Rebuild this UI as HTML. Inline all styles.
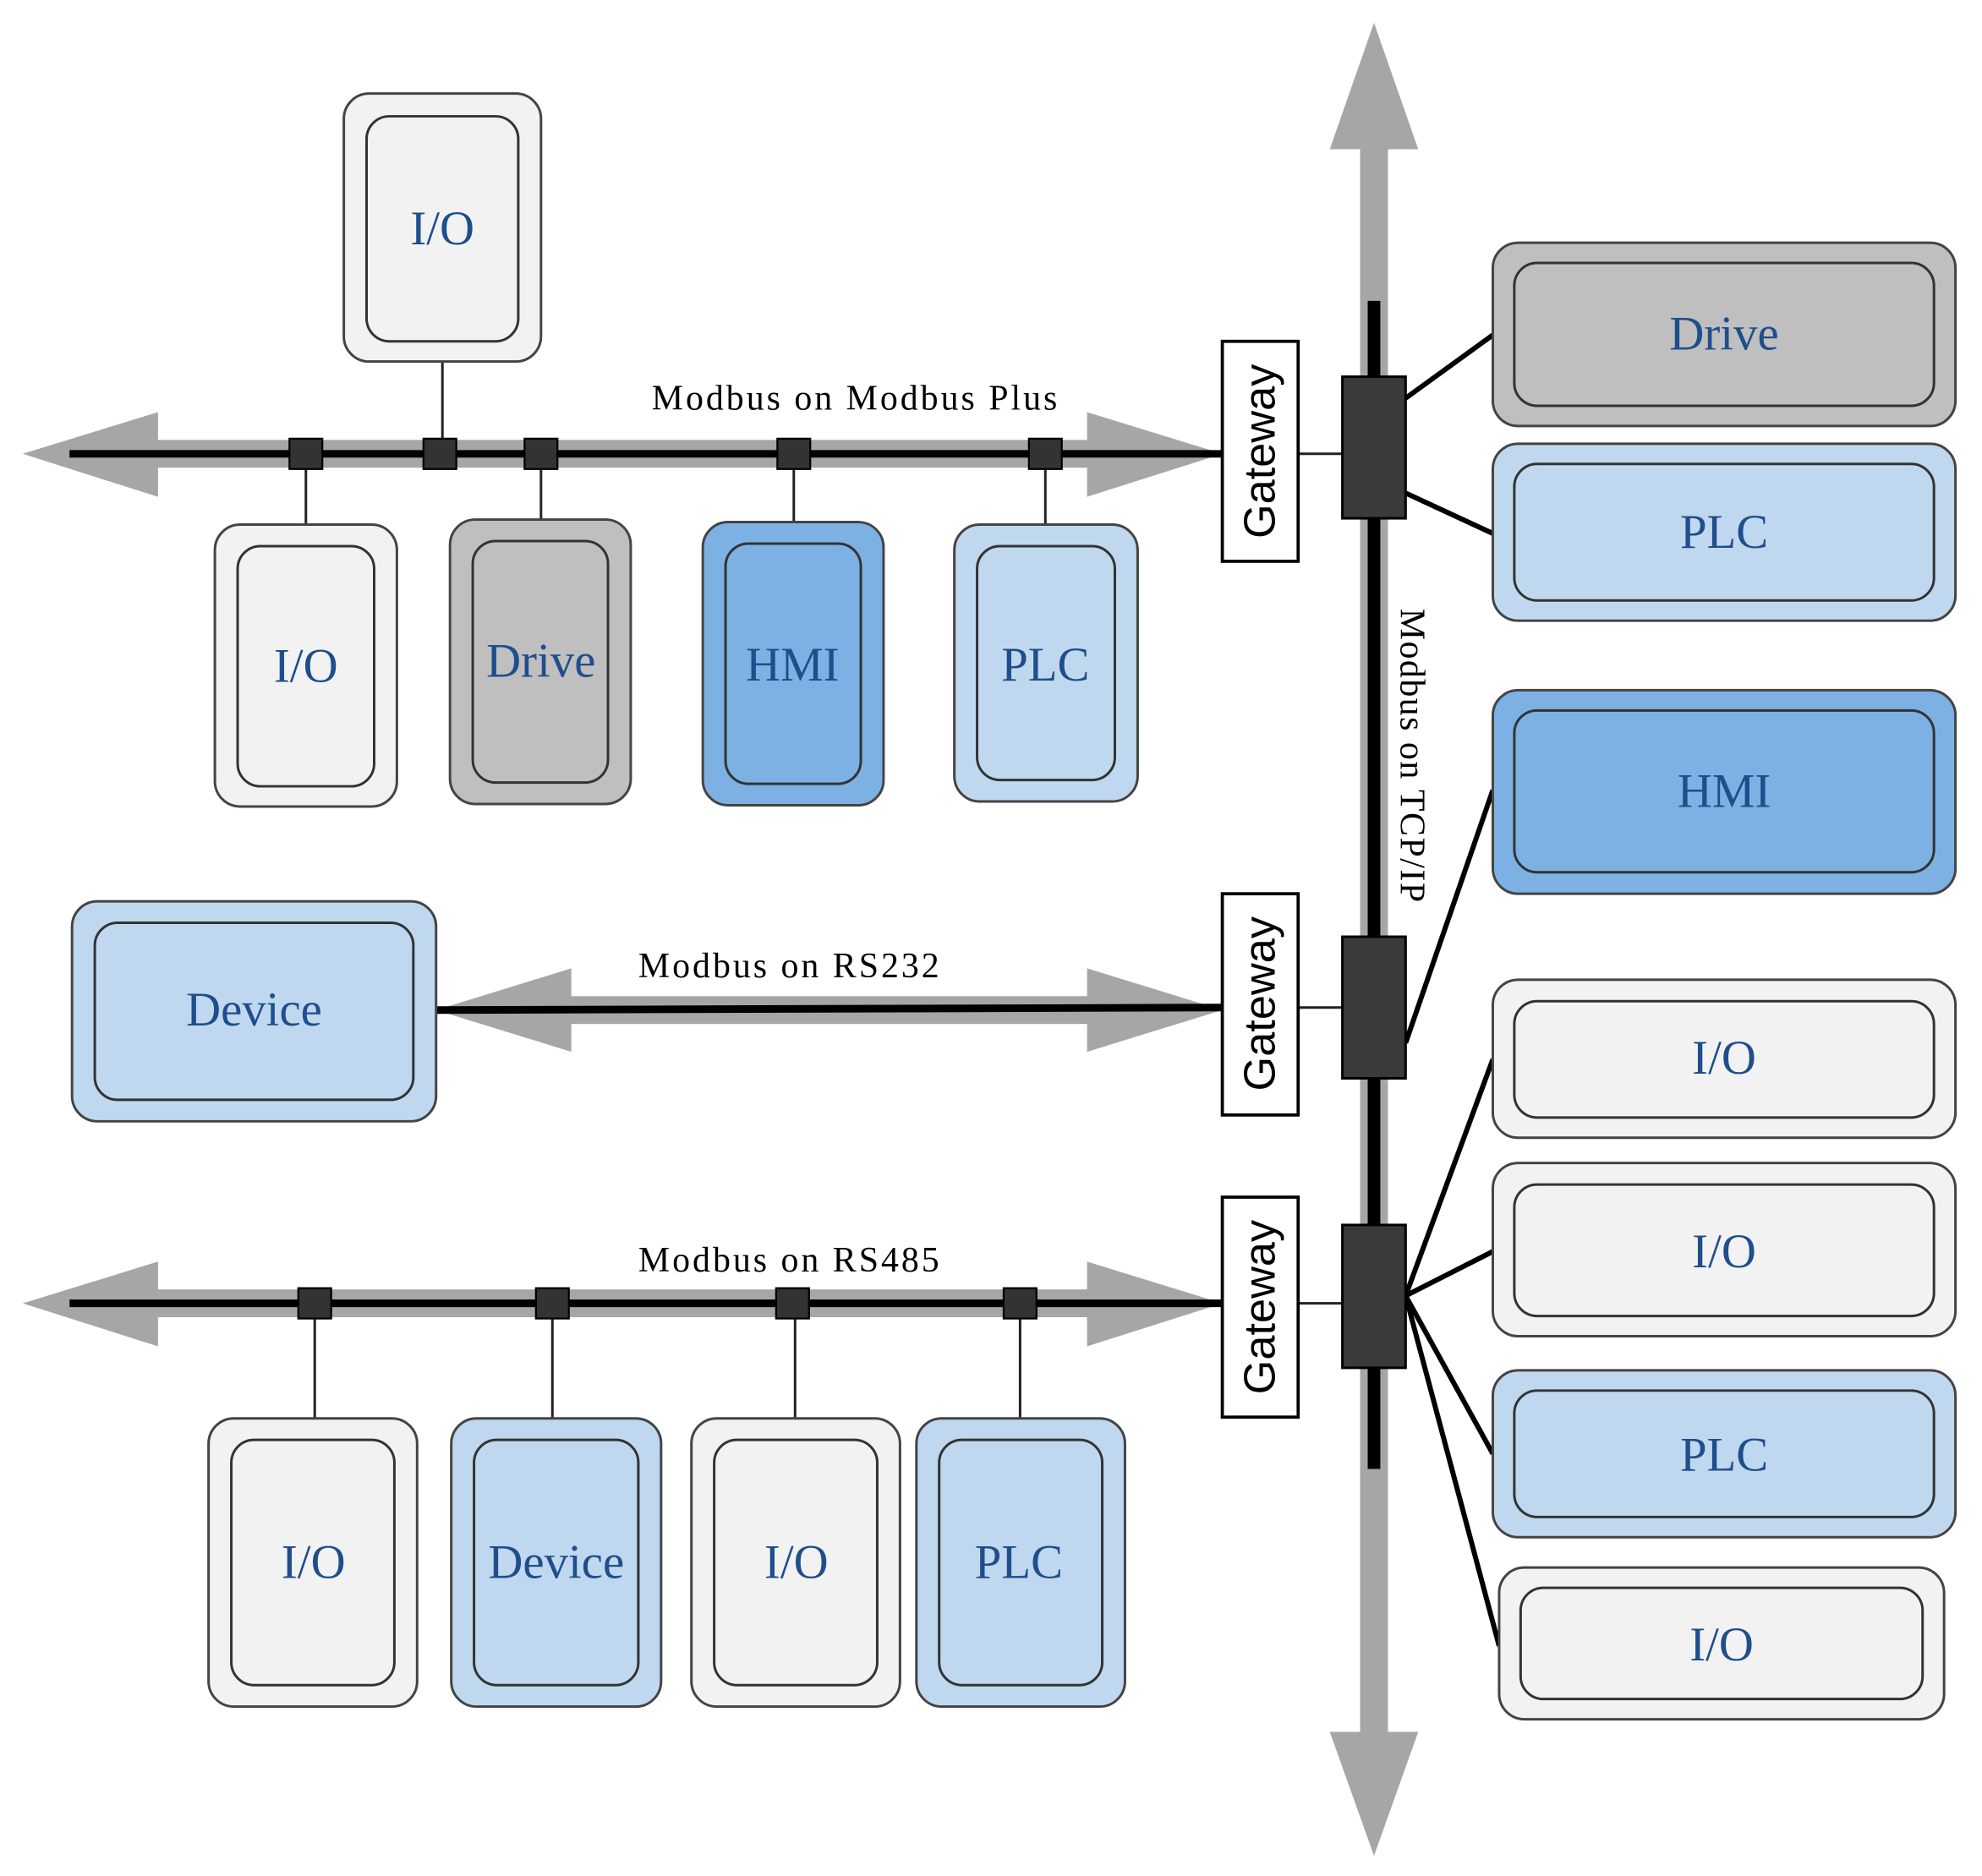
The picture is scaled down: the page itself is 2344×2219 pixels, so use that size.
<!DOCTYPE html>
<html><head><meta charset="utf-8"><style>
html,body{margin:0;padding:0;background:#fff;width:2344px;height:2219px;overflow:hidden}
svg{display:block}
.o{stroke:#444;stroke-width:2}
.i{fill:none;stroke:#333;stroke-width:2}
.t{font-family:"Liberation Serif",serif;font-size:38px;fill:#1f4e8c;text-anchor:middle;dominant-baseline:central}
.l{font-family:"Liberation Serif",serif;font-size:28px;fill:#000;text-anchor:middle;letter-spacing:2px}
.g{font-family:"Liberation Sans",sans-serif;font-size:35px;fill:#000;text-anchor:middle;dominant-baseline:central}
.k{stroke:#000;stroke-width:4}
</style></head><body>
<svg width="2344" height="2219" viewBox="0 0 1568 1484" preserveAspectRatio="none">
<rect x="1076" y="110" width="22" height="1270" fill="#a6a6a6"/>
<polygon points="1087,18 1122,118 1052,118" fill="#a6a6a6"/>
<polygon points="1087,1468 1122,1370 1052,1370" fill="#a6a6a6"/>
<rect x="1082" y="238" width="10" height="924" fill="#000"/>
<g fill="#a6a6a6">
<rect x="110" y="348" width="760" height="22"/>
<polygon points="18,359 125,326 125,393"/><polygon points="967,359 860,326 860,393"/>
<rect x="440" y="788" width="430" height="22"/>
<polygon points="345,799 452,766 452,832"/><polygon points="967,799 860,766 860,832"/>
<rect x="110" y="1020" width="760" height="22"/>
<polygon points="18,1031 125,998 125,1065"/><polygon points="967,1031 860,998 860,1065"/>
</g>
<g stroke="#000" stroke-width="6">
<line x1="55" y1="359" x2="967" y2="359"/>
<line x1="345" y1="799" x2="967" y2="797"/>
<line x1="55" y1="1031" x2="967" y2="1031"/>
</g>
<text class="l" x="677" y="324">Modbus on Modbus Plus</text>
<text class="l" x="625" y="773">Modbus on RS232</text>
<text class="l" x="625" y="1006">Modbus on RS485</text>
<g stroke="#222" stroke-width="2">
<line x1="350" y1="286" x2="350" y2="359"/>
<line x1="242" y1="359" x2="242" y2="415"/><line x1="428" y1="359" x2="428" y2="411"/>
<line x1="628" y1="359" x2="628" y2="413"/><line x1="827" y1="359" x2="827" y2="415"/>
<line x1="249" y1="1031" x2="249" y2="1122"/><line x1="437" y1="1031" x2="437" y2="1122"/>
<line x1="629" y1="1031" x2="629" y2="1122"/><line x1="807" y1="1031" x2="807" y2="1122"/>
<line x1="1027" y1="359" x2="1062" y2="359"/><line x1="1027" y1="797" x2="1062" y2="797"/><line x1="1027" y1="1031" x2="1062" y2="1031"/>
</g>
<g fill="#333" stroke="#000" stroke-width="1.5">
<rect x="229" y="347" width="26" height="24"/><rect x="335" y="347" width="26" height="24"/>
<rect x="415" y="347" width="26" height="24"/><rect x="615" y="347" width="26" height="24"/>
<rect x="814" y="347" width="26" height="24"/>
<rect x="236" y="1019" width="26" height="24"/><rect x="424" y="1019" width="26" height="24"/>
<rect x="614" y="1019" width="26" height="24"/><rect x="794" y="1019" width="26" height="24"/>
</g>
<g class="k">
<line x1="1112" y1="315" x2="1181" y2="265"/><line x1="1112" y1="390" x2="1181" y2="422"/>
<line x1="1112" y1="825" x2="1181" y2="625"/>
<line x1="1112" y1="1025" x2="1181" y2="838"/><line x1="1112" y1="1025" x2="1181" y2="990"/>
<line x1="1112" y1="1025" x2="1181" y2="1150"/><line x1="1112" y1="1025" x2="1186" y2="1302"/>
</g>
<g fill="#3a3a3a" stroke="#000" stroke-width="2">
<rect x="1062" y="298" width="50" height="112"/><rect x="1062" y="741" width="50" height="112"/><rect x="1062" y="969" width="50" height="113"/>
</g>
<g fill="#fff" stroke="#000" stroke-width="2.5">
<rect x="967" y="270" width="60" height="174"/><rect x="967" y="707" width="60" height="175"/><rect x="967" y="947" width="60" height="174"/>
</g>
<text class="g" transform="translate(997,357) rotate(-90)">Gateway</text>
<text class="g" transform="translate(997,794) rotate(-90)">Gateway</text>
<text class="g" transform="translate(997,1034) rotate(-90)">Gateway</text>
<text class="l" style="letter-spacing:1px" transform="translate(1108,598) rotate(90)">Modbus on TCP/IP</text>
<g>
<rect class="o" x="272" y="74" width="156" height="212" rx="20" fill="#f2f2f2"/><rect class="i" x="290" y="92" width="120" height="178" rx="18"/><text class="t" x="350" y="181">I/O</text>
<rect class="o" x="170" y="415" width="144" height="223" rx="20" fill="#f2f2f2"/><rect class="i" x="188" y="432" width="108" height="190" rx="18"/><text class="t" x="242" y="527">I/O</text>
<rect class="o" x="356" y="411" width="143" height="225" rx="20" fill="#bfbfbf"/><rect class="i" x="374" y="428" width="107" height="191" rx="18"/><text class="t" x="428" y="523">Drive</text>
<rect class="o" x="556" y="413" width="143" height="224" rx="20" fill="#7eb1e3"/><rect class="i" x="574" y="430" width="107" height="190" rx="18"/><text class="t" x="627" y="526">HMI</text>
<rect class="o" x="755" y="415" width="145" height="219" rx="20" fill="#c0d8ef"/><rect class="i" x="773" y="432" width="109" height="185" rx="18"/><text class="t" x="827" y="526">PLC</text>
<rect class="o" x="57" y="713" width="288" height="174" rx="20" fill="#c0d8ef"/><rect class="i" x="75" y="730" width="252" height="140" rx="18"/><text class="t" x="201" y="799">Device</text>
<rect class="o" x="165" y="1122" width="165" height="228" rx="20" fill="#f2f2f2"/><rect class="i" x="183" y="1139" width="129" height="194" rx="18"/><text class="t" x="248" y="1236">I/O</text>
<rect class="o" x="357" y="1122" width="166" height="228" rx="20" fill="#c0d8ef"/><rect class="i" x="375" y="1139" width="130" height="194" rx="18"/><text class="t" x="440" y="1236">Device</text>
<rect class="o" x="547" y="1122" width="165" height="228" rx="20" fill="#f2f2f2"/><rect class="i" x="565" y="1139" width="129" height="194" rx="18"/><text class="t" x="630" y="1236">I/O</text>
<rect class="o" x="725" y="1122" width="165" height="228" rx="20" fill="#c0d8ef"/><rect class="i" x="743" y="1139" width="129" height="194" rx="18"/><text class="t" x="806" y="1236">PLC</text>
<rect class="o" x="1181" y="192" width="366" height="145" rx="20" fill="#bfbfbf"/><rect class="i" x="1198" y="208" width="332" height="113" rx="18"/><text class="t" x="1364" y="264">Drive</text>
<rect class="o" x="1181" y="351" width="366" height="140" rx="20" fill="#c0d8ef"/><rect class="i" x="1198" y="367" width="332" height="108" rx="18"/><text class="t" x="1364" y="421">PLC</text>
<rect class="o" x="1181" y="546" width="366" height="161" rx="20" fill="#7eb1e3"/><rect class="i" x="1198" y="562" width="332" height="128" rx="18"/><text class="t" x="1364" y="626">HMI</text>
<rect class="o" x="1181" y="775" width="366" height="125" rx="20" fill="#f2f2f2"/><rect class="i" x="1198" y="792" width="332" height="92" rx="18"/><text class="t" x="1364" y="837">I/O</text>
<rect class="o" x="1181" y="920" width="366" height="137" rx="20" fill="#f2f2f2"/><rect class="i" x="1198" y="937" width="332" height="104" rx="18"/><text class="t" x="1364" y="990">I/O</text>
<rect class="o" x="1181" y="1084" width="366" height="132" rx="20" fill="#c0d8ef"/><rect class="i" x="1198" y="1100" width="332" height="100" rx="18"/><text class="t" x="1364" y="1151">PLC</text>
<rect class="o" x="1186" y="1240" width="352" height="120" rx="20" fill="#f2f2f2"/><rect class="i" x="1203" y="1256" width="318" height="88" rx="18"/><text class="t" x="1362" y="1301">I/O</text>
</g>
</svg>
</body></html>
